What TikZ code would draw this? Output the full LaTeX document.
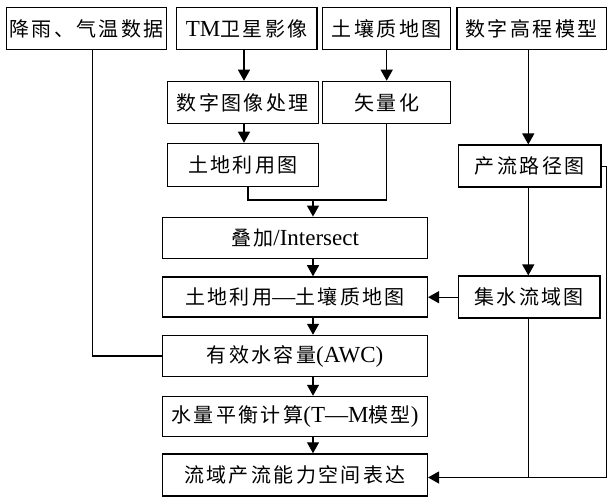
\documentclass[tikz,border=0pt]{standalone}
\usepackage{fontspec}
\setmainfont{Liberation Serif}
\newfontfamily\cjk[LetterSpace=12]{Noto Sans CJK SC}
\usetikzlibrary{arrows.meta,calc}
\newcommand\zh[1]{{\cjk\fontsize{20}{24}\selectfont #1}}

\begin{document}
\begin{tikzpicture}[x=1pt,y=-1pt,
  box/.style={draw, line width=1.5pt, inner sep=0pt, minimum height=42pt,
    font=\fontsize{23}{26}\selectfont},
  wide/.style={box, minimum width=264.6pt},
  link/.style={line width=1.3pt},
  arr/.style={link, -{Triangle[length=11pt,width=12pt]}}]
\useasboundingbox (0,0) rectangle (608,497);

% input data row
\node[box, minimum width=160pt]   (rain) at (86.5,28.75)  {\zh{降雨、气温数据}};
\node[box, minimum width=140.5pt] (tm)   at (246.75,28.75) {TM\zh{卫星影像}};
\node[box, minimum width=128pt]   (soil) at (386.7,28.75) {\zh{土壤质地图}};
\node[box, minimum width=149.5pt] (dem)  at (531.5,28.75) {\zh{数字高程模型}};

% preprocessing
\node[box, minimum width=151pt] (imgproc) at (242.8,102.5) {\zh{数字图像处理}};
\node[box, minimum width=128pt] (vector)  at (386.7,102.5) {\zh{矢量化}};
\node[box, minimum width=151pt, minimum height=43pt] (landuse) at (242.8,165) {\zh{土地利用图}};
\node[box, minimum width=142.7pt] (flowpath) at (529.7,166.2) {\zh{产流路径图}};

% main chain
\node[wide, minimum height=41pt] (intersect) at (295,237.8) {\zh{叠加}/Intersect};
\node[wide, minimum height=40pt] (lusoil)    at (295,297)   {\zh{土地利用}—\zh{土壤质地图}};
\node[box, minimum width=141.7pt] (catch)    at (529.2,297.2) {\zh{集水流域图}};
\node[wide, minimum height=41pt] (awc)       at (295,356)   {\zh{有效水容量}(AWC)};
\node[wide, minimum height=40pt] (balance)   at (295,416.5) {\zh{水量平衡计算}(T—M\zh{模型})};
\node[wide, minimum height=42pt] (final)     at (295,475)   {\zh{流域产流能力空间表达}};

% guide coordinates for the vertical runs
\coordinate (tx) at (244,0);
\coordinate (jx) at (248,0);
\coordinate (mx) at (313,0);
\coordinate (jn) at (313,200);
\coordinate (rx) at (92.3,0);
\coordinate (dx) at (528.3,0);
\coordinate (ex) at (606.5,0);
\coordinate (ey) at (0,477.5);

% connectors
\draw[arr] (tm.south -| tx) -- (imgproc.north -| tx);
\draw[arr] (imgproc.south -| tx) -- (landuse.north -| tx);
\draw[arr] (soil) -- (vector);
\draw[link] (landuse.south -| jx) |- (jn) -| (vector.south);
\draw[arr] (jn) -- (intersect.north -| jn);
\draw[arr] (intersect.south -| mx) -- (lusoil.north -| mx);
\draw[arr] (lusoil.south -| mx) -- (awc.north -| mx);
\draw[arr] (awc.south -| mx) -- (balance.north -| mx);
\draw[arr] (balance.south -| mx) -- (final.north -| mx);
\draw[link] (rain.south -| rx) |- (awc.west);
\draw[arr] (dem.south -| dx) -- (flowpath.north -| dx);
\draw[arr] (flowpath.south -| dx) -- (catch.north -| dx);
\draw[arr] (catch.west) -- (catch.west -| lusoil.east);
\draw[arr] (flowpath.east) -| (ex |- ey) -- (final.east |- ey);
\draw[link] (catch.south -| dx) -- (dx |- ey);
\end{tikzpicture}
\end{document}
